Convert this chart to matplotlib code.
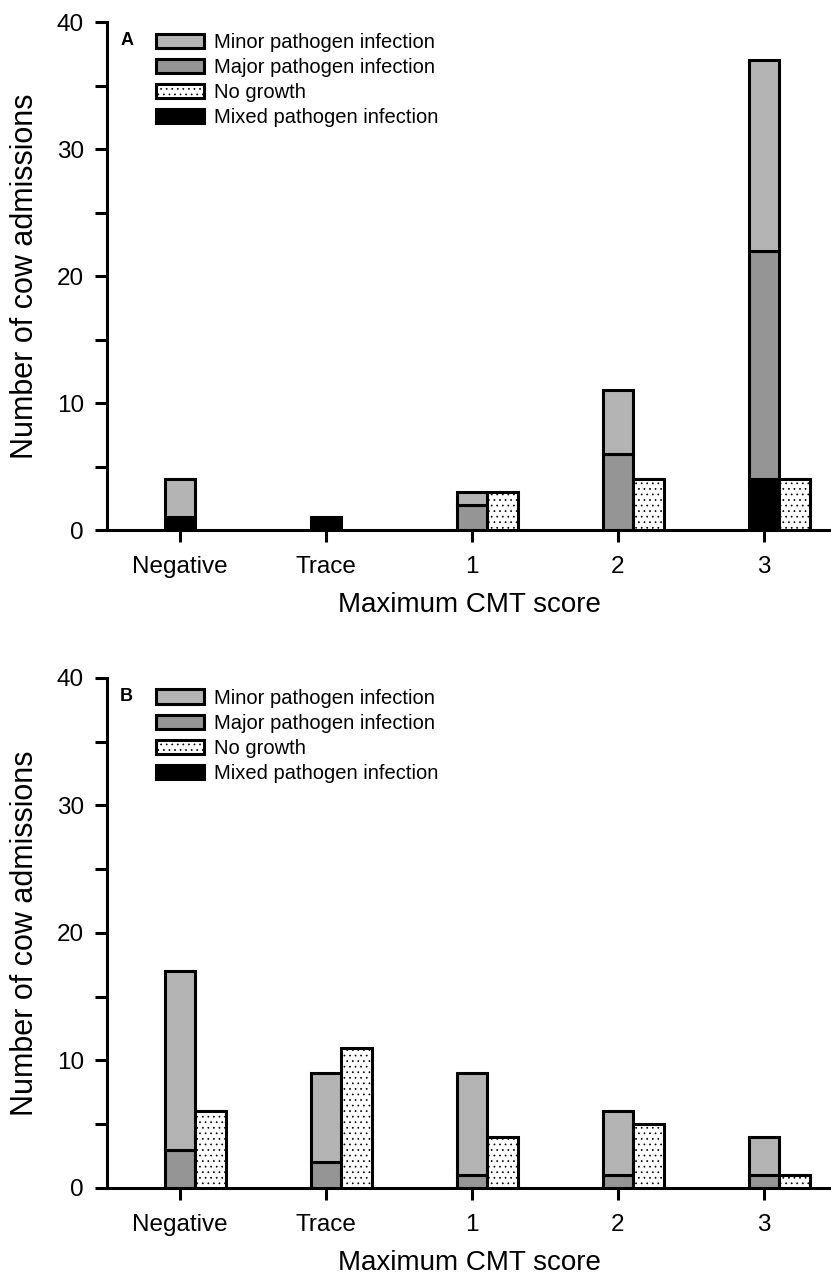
import numpy as np
import matplotlib
matplotlib.use("Agg")
import matplotlib.pyplot as plt

plt.rcParams['font.family'] = ['Liberation Sans', 'DejaVu Sans']
plt.rcParams['hatch.linewidth'] = 0.5

#%% data

categories = ["Negative", "Trace", "1", "2", "3"]

# panel A
a_mixed = [1, 1, 0, 0, 4]
a_major = [0, 0, 2, 6, 18]
a_minor = [3, 0, 1, 5, 15]
a_nogrowth = [0, 0, 3, 4, 4]

# panel B
b_mixed = [0, 0, 0, 0, 0]
b_major = [3, 2, 1, 1, 1]
b_minor = [14, 7, 8, 5, 3]
b_nogrowth = [6, 11, 4, 5, 1]

c_minor = "#b4b4b4"
c_major = "#959595"
c_mixed = "#000000"
lw = 2.2

#%% plot

fig = plt.figure(figsize=(8.31, 12.85), dpi=100)
ax1 = fig.add_axes([0.1288, 0.5875, 0.8712, 0.3953])
ax2 = fig.add_axes([0.1288, 0.0755, 0.8712, 0.3969])

def draw_panel(ax, letter, mixed, major, minor, nogrowth):
    x = np.arange(len(categories))
    w = 0.21
    mixed = np.array(mixed)
    major = np.array(major)
    minor = np.array(minor)
    nogrowth = np.array(nogrowth)
    kw = dict(width=w, edgecolor="black", linewidth=lw, zorder=3)
    # only draw segments that exist so empty ones leave no outline
    m = mixed > 0
    ax.bar(x[m], mixed[m], color=c_mixed, **kw)
    m = major > 0
    ax.bar(x[m], major[m], bottom=mixed[m], color=c_major, **kw)
    m = minor > 0
    ax.bar(x[m], minor[m], bottom=(mixed + major)[m], color=c_minor, **kw)
    m = nogrowth > 0
    ax.bar(x[m] + w, nogrowth[m], color="white", hatch="...", **kw)

    # legend proxies
    h1 = plt.Rectangle((0, 0), 1, 1, facecolor=c_minor, edgecolor="black", linewidth=lw)
    h2 = plt.Rectangle((0, 0), 1, 1, facecolor=c_major, edgecolor="black", linewidth=lw)
    h3 = plt.Rectangle((0, 0), 1, 1, facecolor="white", edgecolor="black", linewidth=lw, hatch="...")
    h4 = plt.Rectangle((0, 0), 1, 1, facecolor=c_mixed, edgecolor="black", linewidth=lw)
    ax.legend([h1, h2, h3, h4],
              ["Minor pathogen infection", "Major pathogen infection",
               "No growth", "Mixed pathogen infection"],
              loc="upper left", bbox_to_anchor=(0.057, 0.995), frameon=False,
              fontsize=14.5, handlelength=2.35, handleheight=0.7,
              handletextpad=0.5, labelspacing=0.3, borderaxespad=0)
    ax.text(0.018, 0.963, letter, transform=ax.transAxes, fontsize=13,
            fontweight="bold", va="center", ha="left")

    ax.set_xlim(-0.5, 4.46)
    ax.set_ylim(0, 40)
    ax.set_yticks([0, 10, 20, 30, 40])
    ax.set_yticks([5, 15, 25, 35], minor=True)
    ax.set_xticks(x)
    ax.set_xticklabels(categories)
    ax.tick_params(axis="both", which="major", labelsize=17.5, width=lw, length=8.5,
                   direction="out", pad=8)
    ax.tick_params(axis="y", which="minor", width=lw, length=8.5, direction="out")
    ax.tick_params(axis="x", pad=10)
    for s in ["top", "right"]:
        ax.spines[s].set_visible(False)
    for s in ["left", "bottom"]:
        ax.spines[s].set_linewidth(lw)
    ax.set_xlabel("Maximum CMT score", fontsize=20, labelpad=10)
    ax.set_ylabel("Number of cow admissions", fontsize=22, labelpad=12)

draw_panel(ax1, "A", a_mixed, a_major, a_minor, a_nogrowth)
draw_panel(ax2, "B", b_mixed, b_major, b_minor, b_nogrowth)

fig.savefig("out.png", dpi=100)
